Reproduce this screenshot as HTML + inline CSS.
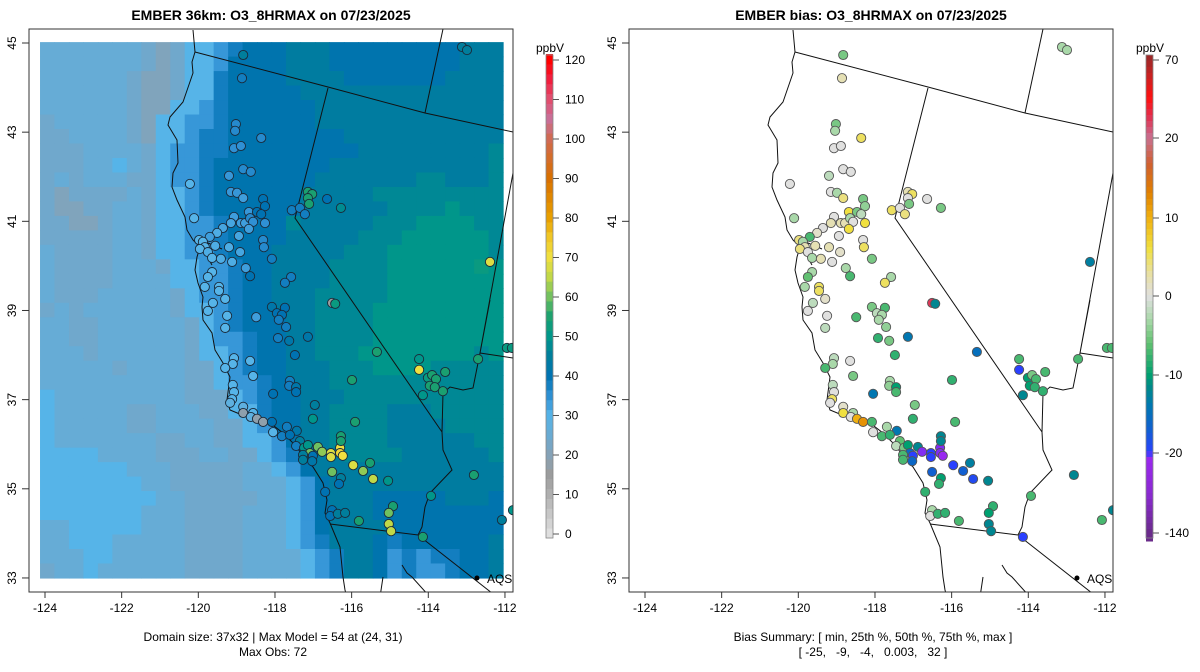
<!DOCTYPE html>
<html><head><meta charset="utf-8">
<style>
html,body{margin:0;padding:0;background:#fff;}
svg{display:block;font-family:"Liberation Sans",Arial,sans-serif;}
</style></head>
<body>
<svg id="chart" width="1200" height="672" viewBox="0 0 1200 672" xmlns="http://www.w3.org/2000/svg">
<rect width="1200" height="672" fill="#fff"/>
<g id="left"></g>
<g id="right"></g>
</svg>
<script>
// ---- data ----
const lonTicks=[-124,-122,-120,-118,-116,-114,-112];
const latTicks=[33,35,37,39,41,43,45];
const obsTicks=[0,10,20,30,40,50,60,70,80,90,100,110,120];
const biasTicks=[-140,-20,-10,0,10,20,70];
const gridExtent=[-124.13,-112.05,33.0,45.02];
const gridCodes={A:21,B:24,C:26,D:30,E:34,F:38,G:41,H:44,I:47,J:50,K:52};
const gridRows=[
"CCCCCCCBABDDEFGGGHHHGGGGGGGGGHHH",
"CCCCCCCBABDDEGGGGHHHGGGGGGGGGHHH",
"CCCCCCBAABDDFGGGGHHHHGGGGGGGHHHH",
"CCCCCCBAABDDFGGGGGHHHHHHHHHHHHHH",
"CCCCCCBAADDEFGGGGGGHHHHHHHHHHHHH",
"BCCCCCBADDEEFGGGGGGHHHHHHHHHHHHH",
"BBCCCCBADDEFFGGGGGGGGHHHHHHHHHHH",
"BBBCCCCBDEEFFGGGGGGGGGHHHHHHHHHI",
"BBBCCDCBDEEFGGGGGGGGHHHHHHHHHHHI",
"BCBCCCBBDEEFGGGGGGGHHHHHHHIIHHHI",
"BABBBBCBDDEFGGGGGGHHHHHIIIIIIIII",
"BAABBCCBDDEFGGGGGGHHHHHHIIIIJIII",
"BBAABCCBDDEEFGGGGIHHHHHIIIJJJJII",
"BBBBBCCBDDEEFGGGGHHHHHIIIJJJJJJI",
"CBBBBCCBDDEEFGGGHHHHHIIIJJJJJJJI",
"CBBBBCCCBDDEEFGGHHHHIIIIJJJJJJKJ",
"CBBBBCCCCDDEEFGGHHHHIIIIJJJJJJJJ",
"CBBBCCCCCBDEEFGGHHHIIIIIJJJJJJJJ",
"BCBCCCCCCBDDEFGGHHHIIIIJJJJJJJJJ",
"CCBBCCCCCCBDEFGGGHHIIIIJJJJJJJJJ",
"CCBBCCCCCCBDEEFGGHHIIIIJJJJJJJJJ",
"CCCBCCCCCCBDDEFGGHHIIIJJJJJJJJIJ",
"CCCCCBCCCCBBDEFGGHHHIIIJJJJIIIII",
"CCCCCCCCCCBBDEEFGHHHIIIIIIIIIIII",
"DCCCCCCCCCBBBDEFGGHHHIIIIIIIIIII",
"DCCCCCBBCCCBBDDFGGHHIIIIHHHIIIII",
"DCCCCCBBCCCCBBDEGGHHIIIIHHHHIIII",
"DCCCCCCCBBCCBBDDEGHHIIIIHHHHHHII",
"DDDDCCCCBBBCCBBDEFHHHIIIIHHHHHHI",
"DDDDDDCCCBBBBBCCDEGHHHHHHHHHHHHH",
"DDDDDDDCCBBBBBCCCDEGHHHHHHHHHHHH",
"DDDDDDDDCCBBBBBCCDEGHHHGGGGGHHHG",
"DDDDDDDCCCBBBBCCCDEGHHHGGGGGGGGG",
"CCDDDDDCCCBBBBCCCDEGHHHHGGGGGGGG",
"CCDDDCCCCCBBBBCCCDEFHHHGFGGGGGGH",
"CCCDDCCCCCBBBBCCCCDEFHHGEFEFFGGH",
"BCCDCCCCCCBBBBCCCCDEFHHGEFEEFGGH"
];
const siteLon=[-118.83,-118.86,-119.02,-119.04,-118.36,-119.07,-118.89,-118.83,-118.63,-119.20,-120.22,-119.15,-118.99,-118.83,-118.31,-118.26,-118.68,-118.47,-118.36,-120.11,-119.07,-119.15,-118.89,-118.78,-118.65,-118.57,-118.26,-118.68,-119.36,-119.51,-119.70,-119.98,-119.88,-119.83,-119.96,-119.75,-119.56,-119.20,-118.91,-118.94,-118.31,-118.29,-119.64,-119.41,-119.12,-118.08,-118.76,-119.64,-119.75,-118.65,-117.58,-117.74,-119.83,-119.46,-119.46,-119.30,-119.62,-119.75,-119.25,-118.08,-117.74,-117.14,-117.03,-117.14,-117.11,-117.56,-117.35,-117.22,-116.64,-116.28,-112.39,-113.12,-112.99,
-119.30,-118.49,-117.95,-117.82,-117.90,-117.71,-117.92,-117.63,-117.14,-117.48,-116.51,-116.43,-115.34,-115.99,-116.96,-117.01,-115.91,-119.07,-119.10,-119.30,-118.65,-118.57,-117.61,-117.63,-117.45,-117.45,-118.05,-119.10,-119.07,-119.12,-119.17,-118.83,-118.83,-118.57,-118.63,-118.47,-118.31,-118.08,-118.05,-117.69,-117.43,-117.82,-117.61,-117.35,-117.45,-117.24,-117.14,-116.88,-117.09,-117.27,-117.01,-117.27,-117.03,-116.77,-116.54,-116.54,-116.30,-116.30,-116.23,-116.28,-116.28,-115.96,-115.70,-115.52,-115.44,-115.05,-116.51,-116.28,-116.33,-116.69,-114.92,-115.03,-115.03,-114.97,-115.81,-116.51,-116.56,-116.36,-116.17,-114.14,-113.93,-112.81,-112.08,-111.79,-111.95,-111.82,-112.70,-114.24,-114.24,-114.01,-113.90,-113.80,-113.96,-113.83,-113.56,-113.62,-114.14];
const siteLat=[44.73,44.21,43.18,43.03,42.87,42.64,42.69,42.17,42.11,42.02,41.84,41.66,41.64,41.52,41.50,41.34,41.21,41.21,41.16,41.07,41.10,40.96,40.96,40.96,41.07,40.99,40.96,40.83,40.85,40.74,40.65,40.58,40.54,40.42,40.38,40.31,40.45,40.42,40.31,40.67,40.58,40.42,40.18,40.16,40.09,40.16,39.95,39.86,39.75,39.77,39.75,39.62,39.53,39.53,39.44,39.26,39.17,38.99,38.88,39.08,39.06,41.66,41.61,41.52,41.39,41.25,41.30,41.16,41.50,41.30,40.09,44.91,44.84,
38.61,38.85,38.94,38.90,38.79,38.63,38.38,38.32,38.41,38.00,39.17,39.15,38.07,37.44,36.88,36.57,36.50,37.93,37.80,37.71,37.87,37.53,37.42,37.31,37.28,37.17,37.13,37.33,37.17,37.01,36.93,36.84,36.70,36.70,36.61,36.57,36.50,36.50,36.27,36.39,36.30,36.18,36.21,36.07,35.96,35.92,35.98,35.94,35.80,35.76,35.74,35.65,35.62,35.83,35.80,35.71,35.92,35.80,35.74,36.18,36.07,35.53,35.40,35.58,35.22,35.18,35.38,35.24,35.11,34.93,34.61,34.46,34.21,34.05,34.28,34.52,34.39,34.44,34.46,33.92,34.84,35.31,34.30,34.52,38.16,38.16,37.91,37.91,37.67,37.49,37.55,37.46,37.31,37.28,37.62,37.19,37.10];
const siteObs=[45,38,36,36,36,35,35,36,36,34,30,34,34,33,40,40,34,40,40,30,33,32,33,33,36,35,35,33,32,31,33,30,30,30,30,31,31,31,32,32,36,36,30,31,31,38,33,30,30,40,38,38,30,30,30,30,30,30,30,42,40,55,55,55,55,38,38,38,40,48,68,45,45,
30,33,40,40,38,38,38,42,42,40,15,52,55,55,45,50,55,30,30,30,30,30,38,38,42,40,40,30,30,30,28,28,18,30,28,18,18,40,30,38,42,38,40,45,38,50,50,60,60,45,40,45,42,62,68,68,70,72,70,55,55,68,62,55,65,50,60,45,40,40,55,60,65,65,55,40,40,45,45,55,50,55,45,50,52,52,55,50,70,52,55,55,55,55,55,55,50];
const siteBias=[-5,2,-5,-3,5,0,0,0,0,-2,0,0,-3,4,-5,-4,6,-5,-2,-3,0,2,2,2,-3,0,6,6,0,1,-7,4,-3,2,4,0,2,2,1,0,0,5,-3,2,0,-5,-3,-3,-6,-7,-3,5,-3,5,5,1,-2,0,0,-5,-7,2,5,0,-5,5,0,4,0,-5,-13,-3,-3,
-2,-7,-2,-3,-3,-4,-8,-5,-14,-8,32,-12,-15,-8,-5,-8,-7,-2,-3,-7,0,-5,-3,-4,-10,-7,-14,-2,0,5,0,1,6,-3,0,10,12,-7,0,-3,-14,-7,-8,-6,-2,-5,-10,-12,-16,-7,-20,-7,-16,-24,-20,-20,-24,-24,-25,-12,-12,-20,-17,-13,-19,-12,-17,-10,-8,-8,-8,-10,-12,-12,-7,-3,0,-8,-8,-20,-7,-12,-7,-12,-7,-7,-7,-7,-20,-10,-5,-7,-10,-8,-7,-8,-12];
const aqsLon=-112.73, aqsLat=33.0;

// ---- scales ----
const NS='http://www.w3.org/2000/svg';
const BOX_TOP=29, BOX_BOT=592;
function xS(lon){return 45+(lon+124)*38.33;}
function yS(lat){return 43+(45-lat)*44.58;}
function hex(h){return [parseInt(h.slice(1,3),16),parseInt(h.slice(3,5),16),parseInt(h.slice(5,7),16)];}
function interp(stops,v){
  if(v<=stops[0][0])return stops[0][1];
  for(let i=1;i<stops.length;i++){
    if(v<=stops[i][0]){const a=stops[i-1],b=stops[i];const t=(v-a[0])/(b[0]-a[0]);
      const c1=hex(a[1]),c2=hex(b[1]);
      return 'rgb('+c1.map((c,k)=>Math.round(c+(c2[k]-c)*t)).join(',')+')';}
  }
  return stops[stops.length-1][1];
}
const obsStops=[[0,'#e0e0e0'],[5,'#c8c8c8'],[10,'#b0b0b0'],[15,'#9c9c9c'],[20,'#86a2b6'],[25,'#6aaad2'],[30,'#56b4e8'],[35,'#2f90d4'],[40,'#0072b2'],[45,'#007e9c'],[50,'#00968a'],[55,'#1aa070'],[60,'#70c060'],[65,'#c0d848'],[70,'#f0e040'],[75,'#f0c828'],[80,'#e8a000'],[90,'#d87000'],[100,'#d06a50'],[105,'#c87098'],[110,'#e05070'],[115,'#f02040'],[120,'#ff0000']];
function obsColor(v){return interp(obsStops,v);}
const bTickY=[533,453,375,296,218,138,60];
function biasT(v){
  for(let i=1;i<biasTicks.length;i++){if(v<=biasTicks[i]){const t=(v-biasTicks[i-1])/(biasTicks[i]-biasTicks[i-1]);return bTickY[i-1]+(bTickY[i]-bTickY[i-1])*t;}}
  return 60;
}
const biasStopsY=[[0,'#6a2b8a'],[0.08,'#8a2ad0'],[0.162,'#9a28f0'],[0.169,'#2a40ff'],[0.22,'#1060d0'],[0.27,'#0078b0'],[0.31,'#008a88'],[0.334,'#00a070'],[0.40,'#60c070'],[0.45,'#a8d8a8'],[0.50,'#e0e0e0'],[0.55,'#e8e0a0'],[0.60,'#f0e040'],[0.666,'#f0b010'],[0.72,'#e08000'],[0.78,'#d06030'],[0.835,'#c87090'],[0.88,'#e03050'],[0.92,'#ff1010'],[0.96,'#d02020'],[1,'#a02828']];
function biasColor(v){const y=biasT(v);return interp(biasStopsY,(533-y)/473);}

function el(tag,attrs,parent,text){const e=document.createElementNS(NS,tag);for(const k in attrs)e.setAttribute(k,attrs[k]);if(text!==undefined)e.textContent=text;parent.appendChild(e);return e;}

// ---- map outlines (pixel geometry in panel space) ----
const coast=[[193,30],[195,52],[192,62],[193,73],[183,102],[170,117],[168,125],[177,140],[178,163],[173,173],[172,187],[177,200],[185,217],[187,230],[193,240],[200,247],[197,257],[195,270],[198,283],[203,297],[202,307],[203,320],[212,333],[215,350],[223,363],[230,377],[227,400],[230,410],[247,417],[270,423],[283,433],[297,447],[303,457],[313,467],[323,483],[327,500],[325,513],[330,523],[340,547],[343,577],[345,590],[347,597]];
const borders=[
 [[195,52],[328,87],[425,113],[513,132]],
 [[425,113],[443,29]],
 [[328,88],[295,218],[442,432]],
 [[513,173],[480,353],[490,300]],
 [[480,353],[513,358]],
 [[442,432],[443,450],[452,470],[430,493],[425,507],[422,527],[418,535],[330,524]],
 [[443,393],[450,387],[463,390],[473,388],[480,353]],
 [[442,432],[443,393]],
 [[418,535],[497,597]],
 [[402,565],[407,573],[412,577],[430,597]],
 [[383,577],[380,597]],
 [[200,240],[208,243],[215,246],[222,249]],
 [[205,250],[208,258],[212,265]]
];

function panel(g,ox,isBias){
  const cid='clip'+(isBias?'R':'L');
  const defs=el('defs',{},g);
  const cp=el('clipPath',{id:cid},defs);
  el('rect',{x:29+ox,y:BOX_TOP,width:484,height:BOX_BOT-BOX_TOP},cp);
  const inner=el('g',{'clip-path':'url(#'+cid+')'},g);
  
  
  if(!isBias){
    const hm=el('g',{},inner);
    
    
    const nR=gridRows.length,nC=gridRows[0].length;
    const x0=xS(gridExtent[0]),x1=xS(gridExtent[1]),y0=yS(gridExtent[3]),y1=yS(gridExtent[2]);
    const cw=(x1-x0)/nC,ch=(y1-y0)/nR;
    for(let r=0;r<nR;r++)for(let c=0;c<nC;c++){
      const v=gridCodes[gridRows[r][c]];
      const rc=el('rect',{x:(ox+x0+c*cw).toFixed(2),y:(y0+r*ch).toFixed(2),width:(cw+0.6).toFixed(2),height:(ch+0.6).toFixed(2),fill:obsColor(v)},hm);
      
      
    }
  }
  const ol=el('g',{fill:'none',stroke:'#111','stroke-width':1,transform:'translate('+ox+',0)'},inner);
  
  
  const cl=el('polyline',{points:coast.map(p=>p.join(',')).join(' ')},ol);
  
  
  borders.forEach(b=>{const pl=el('polyline',{points:b.map(p=>p.join(',')).join(' ')},ol);
    
    });
  const sg=el('g',{},inner);
  
  
  for(let i=0;i<siteLon.length;i++){
    const fill=isBias?biasColor(siteBias[i]):obsColor(siteObs[i]);
    const c=el('circle',{cx:(ox+xS(siteLon[i])).toFixed(1),cy:yS(siteLat[i]).toFixed(1),r:4.6,fill:fill,stroke:isBias?'#555':'#1a2a3a','stroke-width':0.9},sg);
    
    
  }
  const aq=el('circle',{cx:ox+xS(aqsLon),cy:yS(aqsLat),r:2.5,fill:'#000'},inner);
  
  
  const at=el('text',{x:ox+xS(aqsLon)+10,y:yS(aqsLat)+5,'font-size':12,fill:'#000'},inner,'AQS');
  
  
  // box
  const bx=el('rect',{x:29+ox,y:BOX_TOP,width:484,height:BOX_BOT-BOX_TOP,fill:'none',stroke:'#333','stroke-width':1},g);
  
  
  // axes
  const xa=el('g',{},g);
  
  
  lonTicks.forEach(t=>{const x=ox+xS(t);
    el('line',{x1:x,y1:BOX_BOT,x2:x,y2:BOX_BOT+6,stroke:'#333'},xa);
    const tx=el('text',{x:x,y:612,'font-size':12,'text-anchor':'middle',fill:'#000'},xa,String(t));
    
    });
  const ya=el('g',{},g);
  
  
  latTicks.forEach(t=>{const y=yS(t);
    el('line',{x1:ox+22,y1:y,x2:ox+29,y2:y,stroke:'#333'},ya);
    const tx=el('text',{x:ox+16,y:y,'font-size':12,'text-anchor':'middle',fill:'#000',transform:'rotate(-90 '+(ox+16)+' '+y+')'},ya,String(t));
    
    });
  // title
  const tt=el('text',{x:ox+271,y:20,'font-size':14,'font-weight':'bold','text-anchor':'middle',fill:'#000'},g,isBias?'EMBER bias: O3_8HRMAX on 07/23/2025':'EMBER 36km: O3_8HRMAX on 07/23/2025');
  
  
  // footer
  const f1=el('text',{x:ox+273,y:641,'font-size':12,'text-anchor':'middle',fill:'#000'},g,isBias?'Bias Summary: [ min, 25th %, 50th %, 75th %, max ]':'Domain size: 37x32 | Max Model = 54 at (24, 31)');
  
  
  const f2=el('text',{x:ox+273,y:656,'font-size':12,'text-anchor':'middle',fill:'#000'},g,isBias?'[ -25,   -9,   -4,   0.003,   32 ]':'Max Obs: 72');
  
  
  f2.setAttribute('xml:space','preserve');
  f2.style.whiteSpace='pre';
  // colorbar
  const cb=el('g',{},g);
  
  
  const bx0=ox+546, bw=7;
  if(!isBias){
    const yv=v=>534-(v*474/120);
    for(let v=-1;v<121.5;v+=2.5){
      el('rect',{x:bx0,y:yv(v+2.5).toFixed(2),width:bw,height:(2.5*474/120+0.5).toFixed(2),fill:obsColor(v+1.25)},cb);
    }
    el('rect',{x:bx0,y:55,width:bw,height:483,fill:'none',stroke:'#888','stroke-width':0.8},cb);
    obsTicks.forEach(t=>{const y=yv(t);el('line',{x1:bx0+bw,y1:y,x2:bx0+bw+6,y2:y,stroke:'#555'},cb);
      const tx=el('text',{x:bx0+bw+12,y:y+4,'font-size':12,fill:'#000'},cb,String(t));
      
      });
  } else {
    for(let y=55;y<538;y+=6){
      const t=(533-(y+3))/473;
      el('rect',{x:bx0,y:y,width:bw,height:6.5,fill:interp(biasStopsY,Math.max(0,Math.min(1,t)))},cb);
    }
    el('rect',{x:bx0,y:55,width:bw,height:483,fill:'none',stroke:'#888','stroke-width':0.8},cb);
    biasTicks.forEach((t,i)=>{const y=bTickY[i];el('line',{x1:bx0+bw,y1:y,x2:bx0+bw+6,y2:y,stroke:'#555'},cb);
      const tx=el('text',{x:bx0+bw+12,y:y+4,'font-size':12,fill:'#000'},cb,String(t));
      
      });
  }
  const un=el('text',{x:bx0+4,y:52,'font-size':12,'text-anchor':'middle',fill:'#000'},cb,'ppbV');
  
  
}
panel(document.getElementById('left'),0,false);
panel(document.getElementById('right'),600,true);
</script>
</body></html>
